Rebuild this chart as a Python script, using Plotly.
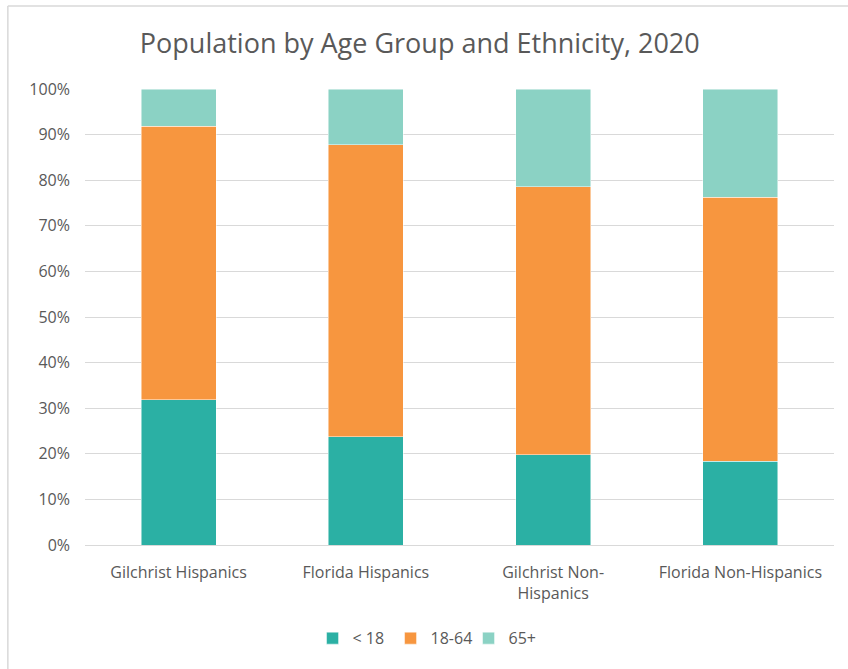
import plotly.graph_objects as go

categories = ["Gilchrist Hispanics", "Florida Hispanics", "Gilchrist Non-<br>Hispanics", "Florida Non-Hispanics"]
under18 = [31.9, 23.7, 19.8, 18.4]
age18_64 = [59.9, 64.1, 58.8, 57.9]
age65plus = [8.2, 12.2, 21.4, 23.7]
series_names = ["&lt; 18", "18-64", "65+"]
colors = ["#2BB0A4", "#F7963F", "#8BD2C4"]

fig = go.Figure()
for name, vals, col in zip(series_names, [under18, age18_64, age65plus], colors):
    fig.add_trace(go.Bar(
        x=categories, y=[v / 100 for v in vals], name=name,
        marker=dict(color=col, line=dict(color="rgba(255,255,255,0.6)", width=0.8)),
    ))

fig.update_layout(
    barmode="stack",
    bargap=0.6,
    width=848, height=669,
    margin=dict(l=85, r=14, t=89, b=124),
    paper_bgcolor="white", plot_bgcolor="white",
    font=dict(family="Open Sans", color="#595959", size=16),
    title=dict(text="Population by Age Group and Ethnicity, 2020",
               x=0.447, xanchor="center", xref="paper", y=0.935, yanchor="middle",
               font=dict(family="Open Sans", size=27, color="#595959")),
    legend=dict(orientation="h", x=0.46, xanchor="center", yref="container", y=0.046,
                yanchor="middle",
                font=dict(size=16, color="#595959"), itemwidth=30, traceorder="normal",
                entrywidth=33, entrywidthmode="pixels", itemclick=False),
    showlegend=True,
)
fig.update_yaxes(range=[0, 1], tickformat=".0%", dtick=0.1, showgrid=True,
                 gridcolor="#D9D9D9", gridwidth=1, zeroline=True, zerolinecolor="#D9D9D9",
                 zerolinewidth=1, ticks="", tickfont=dict(size=16, color="#595959"),
                 ticklabelstandoff=14, automargin=False)
fig.update_xaxes(showline=False, ticks="", tickfont=dict(size=16, color="#595959"),
                 ticklabelstandoff=16, automargin=False)

fig.add_shape(type="line", xref="paper", yref="paper", x0=-0.103, x1=-0.103, y0=-0.3, y1=1.182,
              line=dict(color="#D9D9D9", width=1.5))
fig.add_shape(type="line", xref="paper", yref="paper", x0=-0.103, x1=1.03, y0=1.182, y1=1.182,
              line=dict(color="#D9D9D9", width=1.5))

fig.write_html("out.html")
